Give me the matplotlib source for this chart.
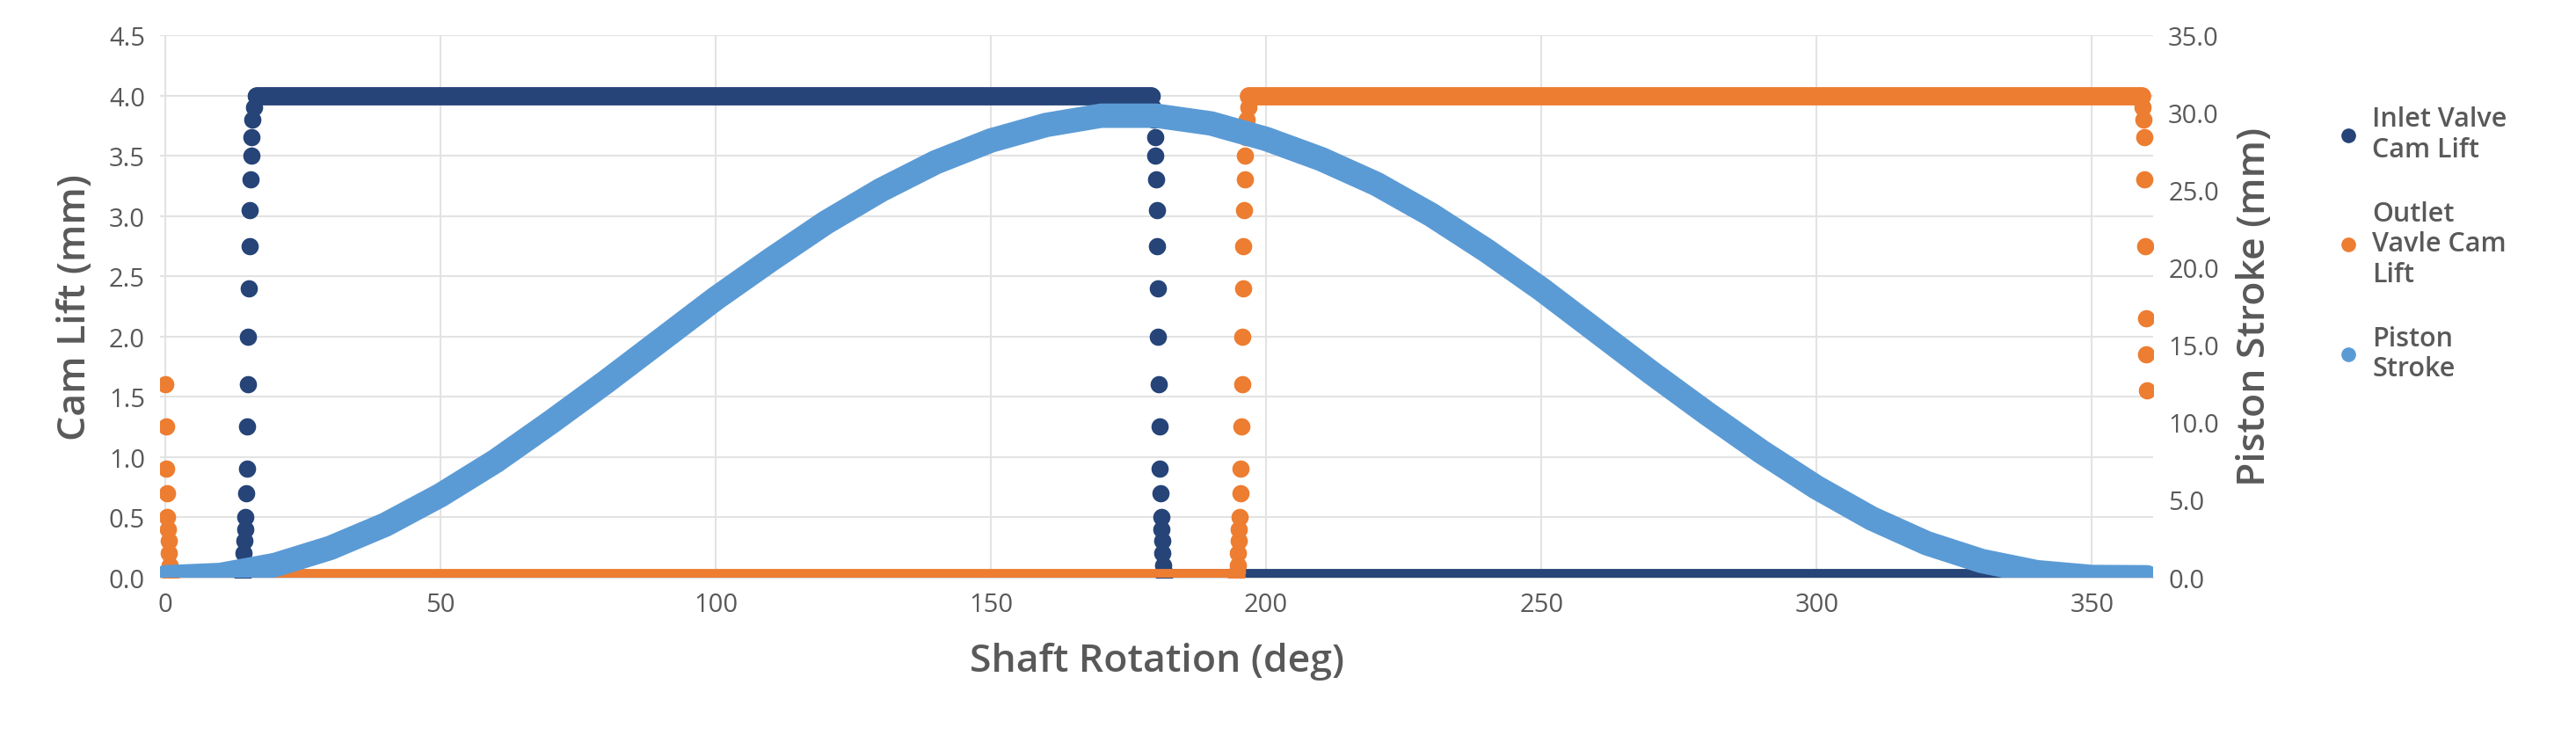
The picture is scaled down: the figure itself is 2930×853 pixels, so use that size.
import matplotlib.pyplot as plt
from matplotlib.lines import Line2D
from matplotlib.ticker import FormatStrFormatter

# ---- data ----
# inlet valve cam lift (mm): plateaus + dotted ramps
inlet_flat_x = [[0, 14.0], [16.6, 179.0], [181.2, 360]]
inlet_flat_y = [[0, 0], [4.0, 4.0], [0, 0]]
inlet_rise_x = [14.0, 14.1, 14.2, 14.3, 14.4, 14.5, 14.6, 14.7, 14.8, 14.9, 15.0,
                15.1, 15.2, 15.3, 15.4, 15.5, 15.6, 15.7, 15.9, 16.1, 16.4]
inlet_rise_y = [0.0, 0.05, 0.1, 0.2, 0.3, 0.4, 0.5, 0.7, 0.9, 1.25, 1.6,
                2.0, 2.4, 2.75, 3.05, 3.3, 3.5, 3.65, 3.8, 3.9, 4.0]
inlet_fall_x = [179.2, 179.4, 179.6, 179.8, 179.9, 180.0, 180.1, 180.2, 180.3, 180.4, 180.5,
                180.6, 180.7, 180.8, 180.9, 181.0, 181.1, 181.2, 181.3, 181.4, 181.5]
inlet_fall_y = [4.0, 3.9, 3.8, 3.65, 3.5, 3.3, 3.05, 2.75, 2.4, 2.0, 1.6,
                1.25, 0.9, 0.7, 0.5, 0.4, 0.3, 0.2, 0.1, 0.05, 0.0]

# outlet valve cam lift (mm)
outlet_flat_x = [[2.0, 194.6], [196.8, 359.0]]
outlet_flat_y = [[0, 0], [4.0, 4.0]]
outlet_start_x = [0.0, 0.1, 0.2, 0.3, 0.4, 0.5, 0.6, 0.7, 0.8, 0.9, 1.0]
outlet_start_y = [1.6, 1.25, 0.9, 0.7, 0.5, 0.4, 0.3, 0.2, 0.1, 0.05, 0.0]
outlet_rise_x = [194.6, 194.7, 194.8, 194.9, 195.0, 195.1, 195.2, 195.3, 195.4, 195.5, 195.6,
                 195.7, 195.8, 195.9, 196.0, 196.1, 196.2, 196.3, 196.5, 196.7, 197.0]
outlet_rise_y = [0.0, 0.05, 0.1, 0.2, 0.3, 0.4, 0.5, 0.7, 0.9, 1.25, 1.6,
                 2.0, 2.4, 2.75, 3.05, 3.3, 3.5, 3.65, 3.8, 3.9, 4.0]
outlet_end_x = [359.0, 359.2, 359.4, 359.5, 359.6, 359.7, 359.8, 359.9, 360.0]
outlet_end_y = [4.0, 3.9, 3.8, 3.65, 3.3, 2.75, 2.15, 1.85, 1.55]

# piston stroke (mm), every 10 deg
piston_x = list(range(0, 361, 10))
piston_y = [0.0, 0.15, 0.8, 1.9, 3.4, 5.3, 7.5, 10.0, 12.6, 15.3, 18.0,
            20.5, 22.9, 25.0, 26.8, 28.2, 29.2, 29.8, 29.8, 29.3, 28.3,
            27.0, 25.4, 23.4, 21.1, 18.6, 15.9, 13.2, 10.6, 8.1, 5.8,
            3.8, 2.2, 1.05, 0.33, 0.02, 0.0]

c_in = '#264478'
c_out = '#ED7D31'
c_pis = '#5B9BD5'
grey = '#595959'
plt.rcParams['font.family'] = ['Open Sans', 'DejaVu Sans']

fig = plt.figure(figsize=(29.3, 8.54), dpi=100)
ax = fig.add_axes([0.062, 0.230, 0.774, 0.722])
ax2 = ax.twinx()

dot = 200
lw = 15
for xs, ys in zip(inlet_flat_x, inlet_flat_y):
    ax.plot(xs, ys, color=c_in, lw=lw, solid_capstyle='round', zorder=3)
ax.scatter(inlet_rise_x, inlet_rise_y, s=dot, color=c_in, zorder=3, lw=0)
ax.scatter(inlet_fall_x, inlet_fall_y, s=dot, color=c_in, zorder=3, lw=0)
for xs, ys in zip(outlet_flat_x, outlet_flat_y):
    ax.plot(xs, ys, color=c_out, lw=lw, solid_capstyle='round', zorder=3)
for xs, ys in [(outlet_start_x, outlet_start_y), (outlet_rise_x, outlet_rise_y),
               (outlet_end_x, outlet_end_y)]:
    ax.scatter(xs, ys, s=dot, color=c_out, zorder=3, lw=0)

ax2.plot(piston_x, piston_y, color=c_pis, lw=20, solid_capstyle='round', solid_joinstyle='round')

ax.set_xlim(-1, 361.2)
ax.set_ylim(0, 4.5)
ax2.set_ylim(0, 35)
ax.set_xticks(range(0, 351, 50))
ax.set_yticks([i * 0.5 for i in range(10)])
ax2.set_yticks(range(0, 36, 5))
ax.yaxis.set_major_formatter(FormatStrFormatter('%.1f'))
ax2.yaxis.set_major_formatter(FormatStrFormatter('%.1f'))
ax.grid(True, color='#E3E3E3', lw=1.5)
ax.set_axisbelow(True)
for a in (ax, ax2):
    for s in a.spines.values():
        s.set_visible(False)
    a.tick_params(length=0, labelsize=21, labelcolor=grey, pad=12)
ax.spines['bottom'].set_visible(True)
ax.spines['bottom'].set_color('#D9D9D9')

ax.set_xlabel('Shaft Rotation (deg)', fontsize=32, color=grey, weight='semibold', labelpad=20)
ax.set_ylabel('Cam Lift (mm)', fontsize=32, color=grey, weight='semibold', labelpad=12)
ax2.set_ylabel('Piston Stroke (mm)', fontsize=32, color=grey, weight='semibold', labelpad=14)

handles = [Line2D([], [], ls='', marker='o', ms=11, color=c) for c in (c_in, c_out, c_pis)]
labels = ['Inlet Valve\nCam Lift', 'Outlet\nVavle Cam\nLift', 'Piston\nStroke']
fig.legend(handles, labels, loc='upper left', bbox_to_anchor=(0.897, 0.89), frameon=False,
           prop={'size': 22, 'weight': 'semibold'}, labelcolor=grey, labelspacing=1.4,
           handletextpad=0.4, handlelength=1.0)

fig.savefig('out.png', dpi=100)
